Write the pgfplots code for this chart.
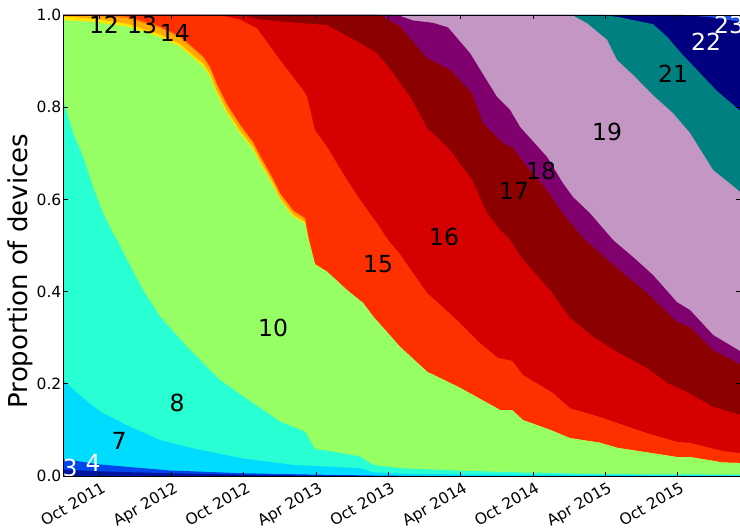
\documentclass[border=0pt]{standalone}
\usepackage{fontspec}
\setmainfont{DejaVu Sans}
\usepackage{pgfplots}
\pgfplotsset{compat=1.18}
\usetikzlibrary{calc}
\definecolor{c3}{RGB}{0,20,160}
\definecolor{c4}{RGB}{0,70,235}
\definecolor{c7}{RGB}{0,220,255}
\definecolor{c8}{RGB}{40,255,210}
\definecolor{c10}{RGB}{150,255,100}
\definecolor{c12}{RGB}{255,230,0}
\definecolor{c13}{RGB}{255,170,0}
\definecolor{c14}{RGB}{255,120,0}
\definecolor{c15}{RGB}{255,48,0}
\definecolor{c16}{RGB}{215,0,0}
\definecolor{c17}{RGB}{140,0,0}
\definecolor{c18}{RGB}{128,0,110}
\definecolor{c19}{RGB}{195,150,195}
\definecolor{c21}{RGB}{0,128,128}
\definecolor{c22}{RGB}{0,0,128}
\definecolor{c23}{RGB}{35,80,230}
\begin{document}
\begin{tikzpicture}
\begin{axis}[
  scale only axis, width=677.6pt, height=461pt,
  xmin=6, xmax=62.23, ymin=0, ymax=1,
  axis on top,
  xtick={9,15,...,57},
  xticklabels={Oct 2011,Apr 2012,Oct 2012,Apr 2013,Oct 2013,Apr 2014,Oct 2014,Apr 2015,Oct 2015},
  ytick={0,0.2,0.4,0.6,0.8,1},
  /pgf/number format/assume math mode=true,
  yticklabel style={/pgf/number format/fixed, /pgf/number format/fixed zerofill, /pgf/number format/precision=1, font=\fontsize{15.5}{18}\selectfont, inner sep=1.5pt},
  xticklabel style={font=\fontsize{15.5}{18}\selectfont, rotate=30, anchor=north east, inner sep=1pt, yshift=-4pt},
  axis line style={line width=0.8pt},
  major tick length=4.5pt,
  tick style={line width=0.8pt, black},
  every axis plot/.append style={draw=none},
]
% 23 (top, everything)
\addplot[fill=c23] coordinates {(6,1) (62.3,1)} \closedcycle;
% 22
\addplot[fill=c22] coordinates {(6,1) (57.45,1) (59.69,0.995) (62.3,0.985)} \closedcycle;
% 21
\addplot[fill=c21] coordinates {(6,1) (50.81,1) (52.22,0.995) (54.96,0.98) (56.12,0.953) (57.20,0.92) (58.86,0.874) (60.27,0.835) (62.3,0.79)} \closedcycle;
% 19
\addplot[fill=c19] coordinates {(6,1) (48.24,1) (49.49,0.982) (51.15,0.946) (51.98,0.902) (53.30,0.87) (54.96,0.826) (56.62,0.787) (58.03,0.744) (59.94,0.664) (62.3,0.614)} \closedcycle;
% 18
\addplot[fill=c18] coordinates {(6,1) (33.39,1) (33.97,0.998) (35.05,0.988) (36.71,0.983) (37.95,0.973) (39.78,0.917) (42.02,0.822) (43.10,0.794) (43.93,0.757) (46.17,0.692) (47.49,0.635) (48.32,0.605) (49.73,0.57) (51.64,0.512) (53.30,0.475) (54.96,0.436) (56.95,0.377) (58.03,0.36) (59.94,0.306) (62.3,0.269)} \closedcycle;
% 17
\addplot[fill=c17] coordinates {(6,1) (32.31,1) (33.97,0.975) (36.21,0.906) (38.12,0.881) (39.94,0.83) (40.85,0.765) (42.51,0.722) (43.34,0.711) (44.51,0.671) (46.17,0.62) (47.24,0.577) (49.3,0.512) (51.98,0.451) (54.46,0.397) (56.95,0.334) (58.03,0.323) (59.94,0.273) (62.3,0.241)} \closedcycle;
% 16
\addplot[fill=c16] coordinates {(6,1) (20.69,1) (22.35,0.99) (25,0.984) (27.91,0.978) (30.65,0.939) (32.06,0.917) (33.39,0.874) (33.97,0.852) (34.80,0.823) (36.21,0.755) (38.12,0.707) (39.94,0.642) (41.19,0.57) (42.27,0.534) (43.10,0.512) (44.17,0.469) (46.41,0.403) (48.07,0.343) (49.98,0.302) (51.98,0.269) (54.46,0.234) (56.12,0.202) (57.78,0.182) (59.94,0.15) (62.3,0.132)} \closedcycle;
% 15
\addplot[fill=c15] coordinates {(6,1) (17.37,1) (19.5,0.997) (20.69,0.99) (22.10,0.971) (24.01,0.902) (25.92,0.837) (26.25,0.823) (26.91,0.75) (27.91,0.714) (29.24,0.656) (30.65,0.599) (32.06,0.548) (32.97,0.512) (33.97,0.481) (35.05,0.44) (36.21,0.397) (38.70,0.338) (40.61,0.288) (42.10,0.256) (43.26,0.25) (44.17,0.219) (46.66,0.18) (48.07,0.147) (50.81,0.126) (51.98,0.115) (54.46,0.093) (56.95,0.074) (58.03,0.072) (60.77,0.054) (62.3,0.049)} \closedcycle;
% 14
\addplot[fill=c14] coordinates {(6,1) (8.49,0.999) (11.31,0.997) (14.05,0.975) (15.71,0.954) (16.81,0.929) (17.64,0.910) (18.2,0.888) (18.75,0.852) (19.58,0.808) (20.69,0.763) (21.79,0.724) (22.35,0.695) (23.45,0.644) (24.01,0.614) (25.11,0.576) (26.08,0.560) (26.36,0.519) (26.91,0.460) (27.91,0.443) (29.57,0.403) (30.90,0.375) (31.73,0.346) (33.97,0.28) (36.21,0.226) (38.95,0.191) (42.27,0.143) (43.26,0.143) (44.17,0.121) (46.41,0.1) (48.07,0.082) (50.56,0.072) (51.98,0.061) (54.71,0.05) (56.95,0.041) (58.03,0.041) (60.77,0.029) (62.3,0.028)} \closedcycle;
% 13
\addplot[fill=c13] coordinates {(6,1) (8.49,0.998) (11.31,0.993) (14.05,0.972) (15.71,0.951) (16.81,0.926) (17.64,0.907) (18.2,0.885) (18.75,0.849) (19.58,0.805) (20.69,0.760) (21.79,0.722) (22.35,0.693) (23.45,0.642) (24.01,0.612) (25.11,0.574) (26.08,0.558) (26.36,0.518) (26.91,0.460) (27.91,0.443) (29.57,0.403) (30.90,0.375) (31.73,0.346) (33.97,0.28) (36.21,0.226) (38.95,0.191) (42.27,0.143) (43.26,0.143) (44.17,0.121) (46.41,0.1) (48.07,0.082) (50.56,0.072) (51.98,0.061) (54.71,0.05) (56.95,0.041) (58.03,0.041) (60.77,0.029) (62.3,0.028)} \closedcycle;
% 12
\addplot[fill=c12] coordinates {(6,0.997) (8.49,0.992) (11.31,0.981) (14.05,0.958) (15.71,0.937) (16.81,0.912) (17.64,0.894) (18.2,0.872) (18.75,0.836) (19.58,0.793) (20.69,0.749) (21.79,0.712) (22.35,0.683) (23.45,0.633) (24.01,0.603) (25.11,0.566) (26.08,0.551) (26.36,0.514) (26.91,0.459) (27.91,0.443) (29.57,0.403) (30.90,0.375) (31.73,0.346) (33.97,0.28) (36.21,0.226) (38.95,0.191) (42.27,0.143) (43.26,0.143) (44.17,0.121) (46.41,0.1) (48.07,0.082) (50.56,0.072) (51.98,0.061) (54.71,0.05) (56.95,0.041) (58.03,0.041) (60.77,0.029) (62.3,0.028)} \closedcycle;
% 10
\addplot[fill=c10] coordinates {(6,0.989) (8.49,0.985) (11.31,0.975) (14.05,0.952) (15.71,0.931) (16.81,0.906) (17.64,0.888) (18.2,0.866) (18.75,0.83) (19.58,0.787) (20.69,0.743) (21.79,0.707) (22.35,0.678) (23.45,0.628) (24.01,0.599) (25.11,0.562) (26.08,0.547) (26.36,0.512) (26.91,0.458) (27.91,0.443) (29.57,0.403) (30.90,0.375) (31.73,0.346) (33.97,0.28) (36.21,0.226) (38.95,0.191) (42.27,0.143) (43.26,0.143) (44.17,0.121) (46.41,0.1) (48.07,0.082) (50.56,0.072) (51.98,0.061) (54.71,0.05) (56.95,0.041) (58.03,0.041) (60.77,0.029) (62.3,0.028)} \closedcycle;
% 8
\addplot[fill=c8] coordinates {(6,0.816) (6.83,0.744) (7.66,0.693) (8.49,0.627) (9.32,0.57) (10.15,0.527) (10.48,0.512) (11.31,0.469) (12.64,0.403) (14.05,0.346) (16.29,0.28) (19.03,0.208) (21.77,0.158) (24.01,0.118) (26.08,0.096) (26.91,0.058) (27.91,0.055) (30.65,0.042) (31.73,0.024) (33.97,0.017) (38.95,0.0115) (45,0.007) (51,0.004) (62.3,0.003)} \closedcycle;
% 7
\addplot[fill=c7] coordinates {(6,0.208) (7.16,0.18) (9.07,0.14) (11.31,0.11) (14.05,0.078) (16.79,0.06) (20.94,0.038) (25.09,0.024) (30.65,0.017) (31.73,0.008) (33.97,0.005) (40,0.003) (50,0.002) (62.3,0.001)} \closedcycle;
% 4
\addplot[fill=c4] coordinates {(6,0.037) (9.07,0.025) (14.88,0.012) (20.94,0.006) (26.91,0.003) (32,0.001) (36,0) (62.3,0)} \closedcycle;
% 3
\addplot[fill=c3] coordinates {(6,0.014) (9.07,0.010) (14.88,0.006) (20.94,0.003) (26.91,0.001) (30,0) (62.3,0)} \closedcycle;
% labels
\begin{scope}[every node/.style={font=\fontsize{23.5}{28}\selectfont, inner sep=0pt}]
\node[white] at (axis cs:6.58,0.0174) {3};
\node[white] at (axis cs:8.49,0.028) {4};
\node at (axis cs:10.65,0.076) {7};
\node at (axis cs:15.46,0.158) {8};
\node at (axis cs:23.43,0.321) {10};
\node at (axis cs:9.40,0.978) {12};
\node at (axis cs:12.56,0.978) {13};
\node at (axis cs:15.29,0.961) {14};
\node at (axis cs:32.14,0.46) {15};
\node at (axis cs:37.62,0.518) {16};
\node at (axis cs:43.43,0.618) {17};
\node at (axis cs:45.67,0.662) {18};
\node at (axis cs:51.15,0.746) {19};
\node at (axis cs:56.62,0.872) {21};
\node[white] at (axis cs:59.36,0.941) {22};
\node[white] at (axis cs:61.27,0.978) {23};
\end{scope}
\end{axis}
\node[rotate=90, font=\fontsize{26}{30}\selectfont] at ($(current axis.south west)+(-43pt,205pt)$) {Proportion of devices};
\pgfresetboundingbox
\path ($(current axis.south west)+(-63pt,-54pt)$) rectangle ($(current axis.north east)+(-0.6pt,15pt)$);
\end{tikzpicture}
\end{document}
